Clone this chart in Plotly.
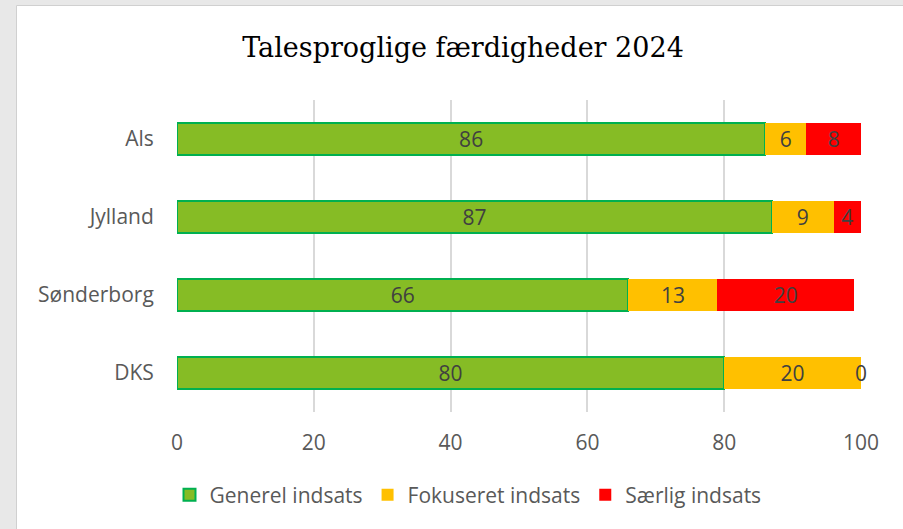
import plotly.graph_objects as go

categories = ["Als", "Jylland", "Sønderborg", "DKS"]
generel = [86, 87, 66, 80]
fokuseret = [6, 9, 13, 20]
saerlig = [8, 4, 20, 0]
x_ticks = [0, 20, 40, 60, 80, 100]

W, H = 903, 529
L, R, T, B = 177, 42, 100, 117
pw, ph = W - L - R, H - T - B

def px_to_paper_x(px):
    return (px - L) / pw

def px_to_paper_y(py):
    return (H - B - py) / ph

SANS = "Open Sans, Liberation Sans, sans-serif"
label_font = dict(family=SANS, size=21, color="#404040")
common = dict(orientation="h", textangle=0, constraintext="none",
              insidetextanchor="middle", textfont=label_font,
              cliponaxis=False, hoverinfo="x+name")

fig = go.Figure()
fig.add_trace(go.Bar(
    y=categories, x=generel, name="Generel indsats",
    marker=dict(color="#86BC25", line=dict(color="#00B050", width=2)),
    text=generel, textposition="inside", **common,
))
fig.add_trace(go.Bar(
    y=categories, x=fokuseret, name="Fokuseret indsats",
    marker=dict(color="#FFC000", line=dict(width=0)),
    text=fokuseret, textposition="inside", **common,
))
fig.add_trace(go.Bar(
    y=categories, x=saerlig, name="Særlig indsats",
    marker=dict(color="#FF0000", line=dict(width=0)),
    text=saerlig, textposition="inside", **common,
))

# zero-width segments: label drawn at the segment's position (end of stack)
for cat, g, f, s in zip(categories, generel, fokuseret, saerlig):
    if s == 0:
        fig.add_annotation(x=g + f + s, y=cat, xref="x", yref="y", text=str(s),
                           showarrow=False, font=label_font, xanchor="center")

fig.update_layout(
    width=W, height=H,
    margin=dict(l=L, r=R, t=T, b=B),
    barmode="stack", bargap=0.59,
    paper_bgcolor="#e8e8e8", plot_bgcolor="rgba(0,0,0,0)",
    title=dict(
        text="Talesproglige færdigheder 2024",
        font=dict(family="DejaVu Serif, Liberation Serif, serif", size=27, color="#000000"),
        x=463 / W, xanchor="center", xref="container",
        y=1 - 48 / H, yanchor="middle", yref="container",
    ),
    showlegend=True,
    legend=dict(
        orientation="h", x=px_to_paper_x(468), xanchor="center",
        y=px_to_paper_y(495), yanchor="middle",
        font=dict(family=SANS, size=21, color="#595959"),
        traceorder="normal", itemclick=False, bgcolor="rgba(0,0,0,0)",
        itemwidth=30, tracegroupgap=0,
    ),
    xaxis=dict(
        range=[0, 100], tickvals=x_ticks, showgrid=True, gridcolor="#d9d9d9",
        gridwidth=1.5, zeroline=False, showline=False,
        tickfont=dict(family=SANS, size=21, color="#595959"),
        ticklabelstandoff=16, fixedrange=True,
    ),
    yaxis=dict(
        categoryorder="array", categoryarray=categories, autorange="reversed",
        showgrid=False, zeroline=False, showline=False,
        tickfont=dict(family=SANS, size=21, color="#595959"),
        ticks="outside", ticklen=18, tickcolor="rgba(0,0,0,0)", fixedrange=True,
    ),
    shapes=[dict(
        type="rect", xref="paper", yref="paper", layer="below",
        x0=px_to_paper_x(16.5), x1=px_to_paper_x(910),
        y0=px_to_paper_y(540), y1=px_to_paper_y(5.5),
        fillcolor="#ffffff", line=dict(color="#d0d0d0", width=1),
    )],
)

fig.write_html(
    "out.html",
    config=dict(displayModeBar=False),
    post_script="document.body.style.margin='0';document.body.style.padding='0';document.body.style.overflow='hidden';",
)
